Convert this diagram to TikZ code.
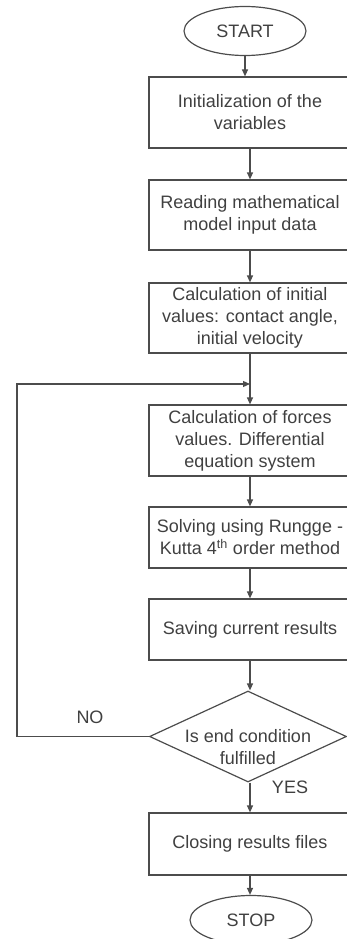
\documentclass[tikz,border=0pt]{standalone}
\usepackage{fontspec}
\setmainfont{Liberation Sans}
\usetikzlibrary{shapes.geometric,arrows.meta}
\tikzset{
  box/.style={draw=black!70,line width=1.2pt,rectangle,minimum width=202,inner sep=0pt,align=center,text=black!75},
  term/.style={draw=black!70,line width=1.2pt,ellipse,minimum width=122,minimum height=49,inner sep=0pt,text=black!75},
  cond/.style={draw=black!70,line width=1.2pt,diamond,minimum width=197,minimum height=91,inner sep=0pt},
  txt/.style={align=center,text=black!75},
  flow/.style={draw=black!70,line width=1.2pt,-{Triangle[length=7pt,width=6pt]}}
}

\begin{document}
\begin{tikzpicture}[x=1pt,y=-1pt,font=\fontsize{18}{22}\selectfont]
        \clip (0,0) rectangle (347,939);
        \node[term] (S) at (245,31){START};
        \node[box,minimum height=71] (A) at (250,112.5){Initialization of the\\variables};
        \node[box,minimum height=70] (B) at (250,215){Reading mathematical\\model input data};
        \node[box,minimum height=70] (C) at (250,318){Calculation of initial\\values: contact angle,\\initial velocity};
        \node[box,minimum height=71] (E) at (250,440.5){Calculation of forces\\values. Differential\\equation system};
        \node[box,minimum height=61] (F) at (250,537.5){Solving using Rungge -\\Kutta 4\textsuperscript{th} order method};
        \node[box,minimum height=61] (G) at (250,629.5){Saving current results};
        \node[cond] (D) at (248,736.5){};
        \node[txt] (Dt) at (248,747){Is end condition\\fulfilled};
        \node[box,minimum height=62] (H) at (250,844){Closing results files};
        \node[term] (T) at (251,920){STOP};
        \coordinate (J) at (250,384);
        \node[txt] (no) at (90,717){NO};
        \node[txt] (yes) at (290,787){YES};
        \draw[flow] (S) -- (S |- A.north);
        \draw[flow] (A) -- (B);
        \draw[flow] (B) -- (C);
        \draw[flow] (C) -- (E);
        \draw[flow] (E) -- (F);
        \draw[flow] (F) -- (G);
        \draw[flow] (G) -- (G |- D.north);
        \draw[flow] (D.south -| H) -- (H);
        \draw[flow] (H) -- (H |- T.north);
        \draw[flow] (D.west) -- ++(-132,0) |- (J);
    \end{tikzpicture}
\end{document}
